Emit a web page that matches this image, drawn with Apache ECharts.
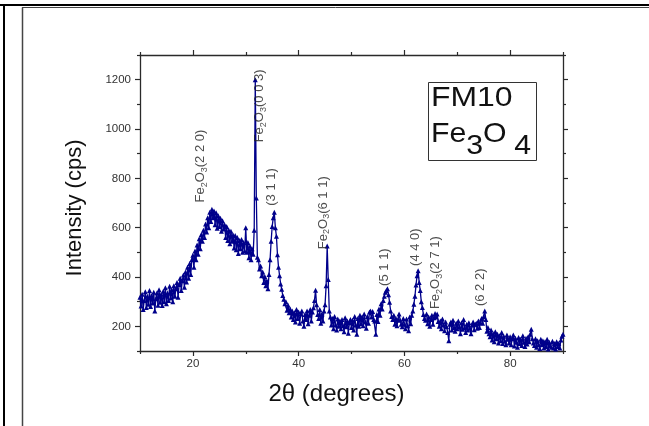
<!DOCTYPE html>
<html><head><meta charset="utf-8">
<script src="https://cdn.jsdelivr.net/npm/echarts@6.0.0/dist/echarts.min.js"></script>
<style>html,body{margin:0;padding:0;background:#fff}#chart{width:649px;height:426px}</style>
</head><body><div id="chart"></div>
<script>
// XRD scan: start angle and step (degrees 2θ), intensities
const scanStart = 10;
const scanStep = 0.2;
const intensity = [
  318, 282, 330, 268, 305, 340, 276, 322, 290, 345,
  280, 325, 295, 338, 262, 312, 335, 285, 348, 298,
  330, 284, 342, 300, 356, 292, 335, 305, 362, 315,
  348, 300, 365, 322, 352, 378, 318, 370, 395, 345,
  385, 408, 358, 420, 380, 440, 395, 455, 410, 470,
  488, 440, 505, 470, 530, 492, 555, 515, 572, 545,
  590, 560, 615, 582, 640, 600, 662, 625, 675, 640,
  668, 612, 660, 598, 648, 605, 638, 585, 628, 595,
  612, 560, 605, 548, 590, 535, 585, 545, 570, 518,
  568, 510, 560, 495, 548, 515, 552, 500, 540, 505,
  600, 500, 540, 478, 525, 470, 515, 492, 590, 1200,
  720, 480, 470, 432, 445, 405, 420, 378, 402, 365,
  385, 352, 410, 470, 545, 605, 640, 662, 600, 565,
  490, 440, 405, 372, 350, 325, 310, 292, 300, 265,
  285, 255, 270, 238, 262, 228, 255, 218, 268, 232,
  258, 212, 250, 262, 222, 200, 248, 228, 262, 210,
  245, 268, 222, 258, 275, 305, 346, 288, 248, 232,
  268, 212, 250, 222, 262, 288, 365, 526, 390, 262,
  238, 205, 232, 190, 240, 205, 185, 230, 200, 222,
  190, 228, 202, 178, 235, 198, 222, 172, 215, 228,
  195, 225, 185, 240, 205, 168, 232, 200, 245, 210,
  238, 202, 250, 218, 192, 240, 212, 258, 262, 238,
  260, 228, 222, 168, 248, 220, 270, 245, 292, 270,
  305, 322, 338, 345, 352, 328, 298, 262, 240, 228,
  245, 208, 232, 202, 228, 250, 225, 208, 198, 232,
  208, 190, 230, 202, 182, 238, 210, 245, 262, 290,
  322, 368, 405, 425, 378, 345, 300, 276, 248, 232,
  225, 250, 210, 238, 200, 228, 245, 208, 235, 252,
  238, 250, 220, 200, 222, 190, 230, 205, 182, 218,
  198, 175, 142, 208, 218, 185, 225, 195, 180, 212,
  190, 222, 198, 170, 215, 188, 228, 195, 175, 208,
  185, 215, 192, 170, 205, 218, 186, 208, 212, 192,
  222, 195, 215, 232, 212, 240, 262, 228, 180, 195,
  170, 158, 185, 145, 170, 138, 178, 150, 168, 132,
  162, 142, 175, 130, 160, 140, 125, 165, 148, 132,
  158, 125, 150, 165, 120, 152, 135, 115, 155, 130,
  148, 122, 162, 135, 118, 152, 128, 158, 138, 168,
  188, 150, 132, 122, 150, 115, 142, 125, 110, 148,
  125, 142, 112, 138, 118, 148, 108, 135, 120, 115,
  140, 112, 130, 108, 138, 118, 130, 112, 145, 160,
  168
];
const xTickLabels = [20, 40, 60, 80];
const yTickLabels = [200, 400, 600, 800, 1000, 1200];
// peak annotations: label anchor (2θ, cps) and text
const peakX = [21.4, 32.6, 34.9, 44.6, 56.3, 62.0, 65.8, 74.3];
const peakY = [702, 946, 689, 513, 364, 445, 270, 282];
const peakLabels = ['Fe2O3(2 2 0)', 'Fe2O3(0 0 3)', '(3 1 1)', 'Fe2O3(6 1 1)', '(5 1 1)', '(4 4 0)', 'Fe2O3(2 7 1)', '(6 2 2)'];

const scanData = intensity.map((v, i) => [+(scanStart + i * scanStep).toFixed(2), v]);
const peakData = peakX.map((x, i) => ({ value: [x, peakY[i]], name: peakLabels[i] }));

function richLabel(t) {
  if (t.indexOf('Fe2O3') === 0) {
    return '{n|Fe}{s|2}{n|O}{s|3}{n|' + t.slice(5) + '}';
  }
  return '{n|' + t + '}';
}

const axisColor = '#2a2a2a';
const font = 'Liberation Sans, Arial, sans-serif';

const chart = echarts.init(document.getElementById('chart'), null, { renderer: 'canvas' });
const xCommon = {
  type: 'value', min: 10, max: 90, interval: 20,
  splitLine: { show: false },
  axisLine: { show: true, lineStyle: { color: axisColor, width: 1.3 } },
  axisTick: { show: true, length: 3, lineStyle: { color: axisColor, width: 1.2 } },
  minorTick: { show: true, splitNumber: 2, length: 5, lineStyle: { color: axisColor, width: 1.2 } },
  minorSplitLine: { show: false }
};
const yCommon = {
  type: 'value', min: 100, max: 1300, interval: 200,
  splitLine: { show: false },
  axisLine: { show: true, lineStyle: { color: axisColor, width: 1.3 } },
  axisTick: { show: true, length: 3, lineStyle: { color: axisColor, width: 1.2 } },
  minorTick: { show: true, splitNumber: 2, length: 5, lineStyle: { color: axisColor, width: 1.2 } },
  minorSplitLine: { show: false }
};

chart.setOption({
  animation: false,
  backgroundColor: '#fff',
  grid: { left: 140, right: 86, top: 55, bottom: 75, containLabel: false },
  xAxis: [
    Object.assign({}, xCommon, {
      position: 'bottom',
      name: '2\u03b8 (degrees)', nameLocation: 'middle', nameGap: 31,
      nameTextStyle: { fontFamily: font, fontSize: 24, color: '#111', padding: [0, 30, 0, 0] },
      axisLabel: { show: true, customValues: xTickLabels, margin: 7, fontFamily: font, fontSize: 11.5, color: '#333', formatter: v => String(v) }
    }),
    Object.assign({}, xCommon, { position: 'top', axisLabel: { show: false } })
  ],
  yAxis: [
    Object.assign({}, yCommon, {
      position: 'left',
      name: 'Intensity (cps)', nameLocation: 'middle', nameGap: 54, nameRotate: 90,
      nameTextStyle: { fontFamily: font, fontSize: 22, color: '#111', padding: [0, 10, 0, 0] },
      axisLabel: { show: true, customValues: yTickLabels, margin: 9, fontFamily: font, fontSize: 11.5, color: '#333', formatter: v => String(v) }
    }),
    Object.assign({}, yCommon, { position: 'right', axisLabel: { show: false } })
  ],
  series: [
    {
      type: 'line', name: 'FM10', data: scanData,
      xAxisIndex: 0, yAxisIndex: 0,
      symbol: 'triangle', symbolSize: 5, showSymbol: true,
      color: '#00008b',
      lineStyle: { color: '#00008b', width: 1.3 },
      itemStyle: { color: '#00008b' },
      emphasis: { disabled: true },
      silent: true, clip: true, z: 2
    },
    {
      type: 'scatter', name: 'peaks', data: peakData,
      xAxisIndex: 0, yAxisIndex: 0,
      symbolSize: 1, itemStyle: { color: 'rgba(0,0,0,0)' },
      silent: true, z: 5,
      label: {
        show: true, position: 'inside', rotate: 90, align: 'left', verticalAlign: 'middle',
        formatter: p => richLabel(p.name),
        rich: {
          n: { fontFamily: font, fontSize: 13, color: '#222', lineHeight: 17, verticalAlign: 'middle' },
          s: { fontFamily: font, fontSize: 9, color: '#222', lineHeight: 17, verticalAlign: 'bottom' }
        }
      }
    }
  ],
  graphic: [
    { type: 'line', shape: { x1: 0, y1: 5, x2: 649, y2: 5 }, style: { stroke: '#000', lineWidth: 2 }, silent: true },
    { type: 'line', shape: { x1: 4, y1: 4, x2: 4, y2: 426 }, style: { stroke: '#000', lineWidth: 2 }, silent: true },
    { type: 'line', shape: { x1: 22, y1: 7.5, x2: 649, y2: 7.5 }, style: { stroke: '#444', lineWidth: 1 }, silent: true },
    { type: 'line', shape: { x1: 22.5, y1: 7.5, x2: 22.5, y2: 426 }, style: { stroke: '#444', lineWidth: 1.5 }, silent: true },
    { type: 'rect', shape: { x: 428.5, y: 82.5, width: 108, height: 78 }, style: { fill: '#fff', stroke: '#333', lineWidth: 1 }, z: 10, silent: true },
    { type: 'text', x: 431, y: 98, scaleX: 1.14, style: { text: 'FM10', fontFamily: font, fontSize: 28, fill: '#111', verticalAlign: 'middle', align: 'left' }, z: 11, silent: true },
    { type: 'text', x: 431, y: 120, scaleX: 1.08, z: 11, silent: true,
      style: {
        text: '{a|Fe}{b|3}{a|O}{c|4}', align: 'left', verticalAlign: 'top', fill: '#111',
        rich: {
          a: { fontFamily: font, fontSize: 28, lineHeight: 40, verticalAlign: 'top', fill: '#111' },
          b: { fontFamily: font, fontSize: 28, lineHeight: 40, verticalAlign: 'bottom', fill: '#111' },
          c: { fontFamily: font, fontSize: 28, lineHeight: 40, verticalAlign: 'bottom', fill: '#111', padding: [0, 0, 0, 7] }
        }
      }
    }
  ]
});
</script>
</body></html>
